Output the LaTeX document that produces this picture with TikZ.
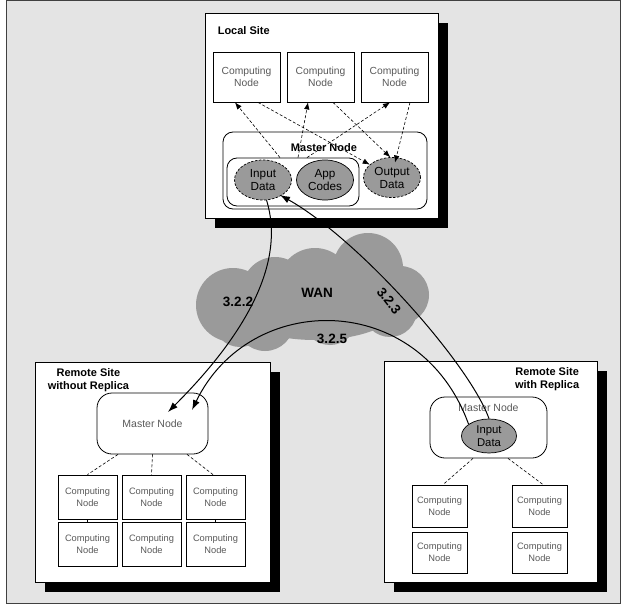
\documentclass[tikz,border=0pt]{standalone}
\usepackage{fontspec}
\setmainfont{Liberation Sans}
\usetikzlibrary{arrows.meta,shadows,calc,shapes.geometric}

\definecolor{bgcol}{HTML}{E4E4E4}
\definecolor{wancol}{HTML}{9A9A9A}
\definecolor{txtcol}{HTML}{5A5A5A}

\begin{document}
\begin{tikzpicture}[x=1pt, y=-1pt]
  % -----------------------------
  % STYLES
  % -----------------------------
  \tikzset{
    site/.style={draw, fill=white, line width=0.8pt, inner sep=0pt,
      drop shadow={shadow xshift=10pt, shadow yshift=-10pt, fill=black, opacity=1}},
    stitle/.style={font=\bfseries\fontsize{11}{12.5}\selectfont, inner sep=0pt, align=center},
    cn/.style={draw, fill=white, line width=0.8pt, text=txtcol, align=center, inner sep=0pt,
      font=\fontsize{10.3}{12.5}\selectfont, minimum width=67pt, minimum height=50pt},
    cns/.style={cn, font=\fontsize{9.3}{11.7}\selectfont, minimum width=59pt, minimum height=44pt},
    mn/.style={draw=black, fill=white, line width=0.8pt, rounded corners=10pt, inner sep=0pt},
    mnt/.style={text=txtcol, inner sep=0pt, font=\fontsize{10.5}{12}\selectfont},
    dat/.style={ellipse, draw, fill=wancol, line width=0.7pt, dash pattern=on 2.5pt off 1.5pt, inner sep=0pt,
      align=center, minimum width=57pt, minimum height=40pt, font=\fontsize{11.7}{13}\selectfont},
    lnk/.style={dash pattern=on 3pt off 2pt, line width=0.6pt},
    lnka/.style={lnk, -{Latex[length=7pt,width=5.5pt]}},
    arc/.style={line width=1pt, -{Latex[length=10pt,width=7pt]}},
    lab/.style={font=\bfseries\fontsize{13.5}{15}\selectfont, inner sep=0pt},
  }

  \useasboundingbox (0,0) rectangle (621,607);

  % -----------------------------
  % BACKGROUND + WAN CLOUD
  % -----------------------------
  \filldraw[fill=bgcol, draw=black!75, line width=1pt] (6,0.5) rectangle (620.5,603);

  \fill[wancol] (315,300) ellipse[x radius=90pt, y radius=40pt];
  \foreach \cx/\cy/\r in {233/305/37, 275/290/33, 315/285/37, 368/268/35, 400/295/29,
                          390/310/27, 330/318/27, 265/322/29, 240/320/27} {
    \fill[wancol] (\cx,\cy) circle[radius=\r pt];
  }

  % -----------------------------
  % LOCAL SITE
  % -----------------------------
  \node[site, minimum width=233pt, minimum height=205pt] (loc) at (321.5,115.5) {};
  \node[stitle, anchor=west] (loct) at ($(loc.north west)+(13,17.5)$) {Local Site};

  \foreach \i/\x in {1/246.5, 2/320.5, 3/394.5} {
    \node[cn] (c\i) at (\x,77) {Computing\\Node};
  }

  \node[mn, minimum width=204pt, minimum height=77pt] (lm) at (325,170.5) {};
  \node[stitle] (lmt) at ($(lm.north)+(-1,16)$) {Master Node};
  \node[mn, minimum width=132pt, minimum height=48pt] (lin) at (293,182) {};

  \node[dat] (ind) at (263,180) {Input\\Data};
  \node[dat, solid] (app) at (325,180) {App\\Codes};
  \node[dat] (outd) at (392,177.5) {Output\\Data};

  % master <-> computing nodes
  \draw[lnka] ($(lin.north)+(-13,0)$) -- ($(c1.south)+(-11.5,0)$);
  \draw[lnka] ($(lin.north)+(5,0)$) -- ($(c2.south)+(-12.5,0)$);
  \draw[lnka] ($(lin.north)+(14,0)$) -- ($(c3.south)+(-4.5,0)$);
  \draw[lnka] ($(c1.south)+(11.5,0)$) -- (outd.150);
  \draw[lnka] ($(c2.south)+(12.5,0)$) -- (outd.95);
  \draw[lnka] ($(c3.south)+(15.5,0)$) -- ($(outd.center)+(3,-15)$);

  % -----------------------------
  % REMOTE SITE WITHOUT REPLICA
  % -----------------------------
  \node[site, minimum width=235pt, minimum height=220pt] (ra) at (152.5,472) {};
  \node[stitle, anchor=north west] (rat) at ($(ra.north west)+(13,7)$) {Remote Site\\without Replica};
  \node[mn, mnt, rounded corners=15pt, minimum width=111pt, minimum height=61pt] (ram) at (152.5,423.5) {Master Node};

  \foreach \c/\x in {1/87.5, 2/151.5, 3/215.5} {
    \node[cns] (a\c1) at (\x,497) {Computing\\Node};
    \node[cns] (a\c2) at (\x,544) {Computing\\Node};
  }
  \draw (a11) -- (a12);
  \draw (a31) -- (a32);

  \draw[lnk] ($(ram.south)+(-34.5,0)$) -- (a11.north);
  \draw[lnk] (ram.south) -- (a21.north);
  \draw[lnk] ($(ram.south)+(34.5,0)$) -- ($(a31.north)+(-2.5,0)$);

  % -----------------------------
  % REMOTE SITE WITH REPLICA
  % -----------------------------
  \node[site, minimum width=213pt, minimum height=221pt] (rb) at (490.5,471.5) {};
  \node[stitle, anchor=north east] (rbt) at ($(rb.north east)+(-18,7)$) {Remote Site\\with Replica};
  \node[mn, rounded corners=15pt, minimum width=117pt, minimum height=61pt] (rbm) at (488.5,427.5) {};
  \node[mnt] (rbmt) at ($(rbm.north)+(0,11)$) {Master Node};
  \node[dat, solid, minimum width=55pt, minimum height=34pt, font=\fontsize{11.3}{12.5}\selectfont] (rbd) at (489,436) {Input\\Data};

  \foreach \c/\x in {1/439.5, 2/539.5} {
    \node[cns, minimum width=55pt, minimum height=42pt] (b\c1) at (\x,506) {Computing\\Node};
    \node[cns, minimum width=55pt, minimum height=41pt] (b\c2) at (\x,552.5) {Computing\\Node};
  }

  \draw[lnk] ($(rbm.south)+(-15.5,0)$) -- ($(b11.north)+(3.5,0)$);
  \draw[lnk] ($(rbm.south)+(19.5,0)$) -- ($(b21.north)+(3.5,0)$);

  % -----------------------------
  % TRANSFERS OVER THE WAN
  % -----------------------------
  \draw[arc] (ind.-80) .. controls (285,260) and (250,330) .. ($(ram.center)+(15.5,-11.5)$);
  \draw[arc] (rbd.150) .. controls (420,290) and (250,290) .. ($(ram.center)+(39.5,-13.5)$);
  \draw[arc] (rbd.north) .. controls (470,365) and (360,240) .. ($(ind.center)+(17,15)$);

  \node[lab] (wan) at (317,293) {WAN};
  \node[lab] (l322) at (238,302) {3.2.2};
  \node[lab] (l325) at (332,339) {3.2.5};
  \node[lab, rotate=-52] (l323) at (389,301) {3.2.3};
\end{tikzpicture}
\end{document}
